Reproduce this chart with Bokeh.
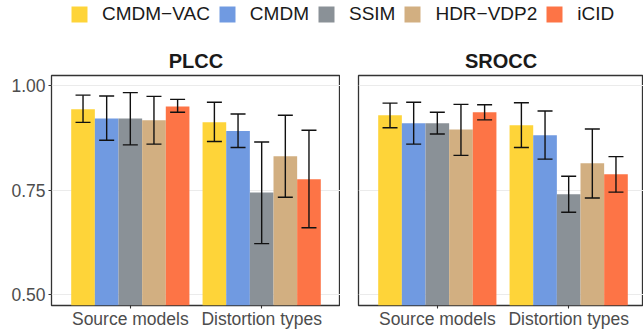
from bokeh.plotting import figure
from bokeh.models import (Range1d, FixedTicker, ColumnDataSource, Whisker, TeeHead,
                          Legend, LegendItem, NumeralTickFormatter)
from bokeh.layouts import column, row
from bokeh.embed import file_html
from bokeh.resources import INLINE

# ---------------- data ----------------
methods = ["CMDM\u2212VAC", "CMDM", "SSIM", "HDR\u2212VDP2", "iCID"]
colors = ["#FED439", "#709AE1", "#8A9197", "#D2AF81", "#FD7446"]
groups = ["Source models", "Distortion types"]
y_ticks = [0.50, 0.75, 1.00]

plcc_source = [0.943, 0.921, 0.921, 0.917, 0.950]
plcc_source_lo = [0.912, 0.869, 0.858, 0.860, 0.936]
plcc_source_hi = [0.977, 0.975, 0.983, 0.974, 0.967]
plcc_dist = [0.912, 0.891, 0.744, 0.831, 0.776]
plcc_dist_lo = [0.866, 0.852, 0.622, 0.733, 0.660]
plcc_dist_hi = [0.960, 0.932, 0.865, 0.929, 0.893]

srocc_source = [0.929, 0.910, 0.910, 0.895, 0.936]
srocc_source_lo = [0.899, 0.860, 0.884, 0.833, 0.918]
srocc_source_hi = [0.958, 0.960, 0.936, 0.955, 0.954]
srocc_dist = [0.905, 0.881, 0.740, 0.814, 0.788]
srocc_dist_lo = [0.852, 0.824, 0.697, 0.731, 0.745]
srocc_dist_hi = [0.959, 0.939, 0.783, 0.896, 0.830]

FONT = "Liberation Sans"
group_pos = [1, 2]
n = len(methods)
bar_w = 0.9 / n
offsets = [(i - (n - 1) / 2) * bar_w for i in range(n)]

LEG_H = 30
PANEL_H = 301
TOP = 45
BOTTOM = 25
LEFT_W = 340
LEFT_B = 51
RIGHT_W = 303
RIGHT_B = 18


def make_panel(title, vals, lo, hi, width, border_left, show_y, x_end):
    p = figure(width=width, height=PANEL_H, x_range=Range1d(0.4, x_end),
               y_range=Range1d(0.474, 1.024), output_backend="svg",
               toolbar_location=None, min_border_left=border_left,
               min_border_right=0, min_border_top=TOP, min_border_bottom=BOTTOM)
    p.title.text = title
    p.title.align = "center"
    p.title.text_font = FONT
    p.title.text_font_size = "20px"
    p.title.text_font_style = "bold"
    p.title.text_color = "#1A1A1A"
    p.title.standoff = 7

    p.outline_line_color = "#333333"
    p.outline_line_width = 1.3
    p.background_fill_color = "white"
    p.border_fill_color = "white"

    for i in range(n):
        src = ColumnDataSource(dict(
            x=[g + offsets[i] for g in group_pos],
            top=[vals[0][i], vals[1][i]],
            lo=[lo[0][i], lo[1][i]],
            hi=[hi[0][i], hi[1][i]],
        ))
        p.vbar(x="x", top="top", bottom=0, width=bar_w, source=src,
               fill_color=colors[i], line_color=None)
        w = Whisker(base="x", upper="hi", lower="lo", source=src, level="annotation",
                    line_color="#111111", line_width=1.4,
                    upper_head=TeeHead(size=15, line_color="#111111", line_width=1.4),
                    lower_head=TeeHead(size=15, line_color="#111111", line_width=1.4))
        p.add_layout(w)

    p.xaxis.ticker = FixedTicker(ticks=group_pos)
    p.xaxis.major_label_overrides = {gp: g for gp, g in zip(group_pos, groups)}
    p.yaxis.ticker = FixedTicker(ticks=y_ticks)
    p.yaxis.formatter = NumeralTickFormatter(format="0.00")
    p.ygrid.ticker = FixedTicker(ticks=y_ticks)
    p.xgrid.visible = False
    p.ygrid.grid_line_color = "#EBEBEB"
    p.ygrid.grid_line_width = 1.1
    for ax in p.axis:
        ax.axis_line_color = None
        ax.major_tick_line_color = "#333333"
        ax.major_tick_line_width = 1.1
        ax.major_tick_in = 0
        ax.major_tick_out = 3
        ax.minor_tick_line_color = None
        ax.major_label_text_font = FONT
        ax.major_label_text_font_size = "17.5px"
        ax.major_label_text_color = "#4D4D4D"
    p.xaxis.major_label_standoff = 0
    p.yaxis.major_label_standoff = 3
    if not show_y:
        p.yaxis.visible = False
    return p


px_per_unit = (LEFT_W - LEFT_B) / 2.2
right_end = 0.4 + (RIGHT_W - RIGHT_B) / px_per_unit

left = make_panel("PLCC", [plcc_source, plcc_dist], [plcc_source_lo, plcc_dist_lo],
                  [plcc_source_hi, plcc_dist_hi], LEFT_W, LEFT_B, True, 2.6)
right = make_panel("SROCC", [srocc_source, srocc_dist], [srocc_source_lo, srocc_dist_lo],
                   [srocc_source_hi, srocc_dist_hi], RIGHT_W, RIGHT_B, False, right_end)

# ---------------- legend ----------------
leg = figure(width=LEFT_W + RIGHT_W, height=LEG_H, x_range=Range1d(0, 1), y_range=Range1d(0, 1),
             output_backend="svg", toolbar_location=None, min_border=0)
leg.axis.visible = False
leg.grid.visible = False
leg.outline_line_color = None
items = []
for m, c in zip(methods, colors):
    # swatch renderer kept outside the visible range of this legend-only canvas
    r = leg.vbar(x=[-5], top=[-5], bottom=[-6], width=0.1, fill_color=c, line_color=None)
    items.append(LegendItem(label=m, renderers=[r]))
legend = Legend(items=items, orientation="horizontal", location=(69, 5),
                glyph_width=20, glyph_height=20, label_standoff=13, spacing=7,
                padding=0, margin=0, border_line_color=None,
                background_fill_alpha=0, label_text_font=FONT,
                label_text_font_size="19px", label_text_color="#1A1A1A",
                label_height=20)
leg.add_layout(legend, "center")

layout = column(leg, row(left, right, spacing=0), spacing=0)

open("out.html", "w").write(file_html(layout, INLINE))
